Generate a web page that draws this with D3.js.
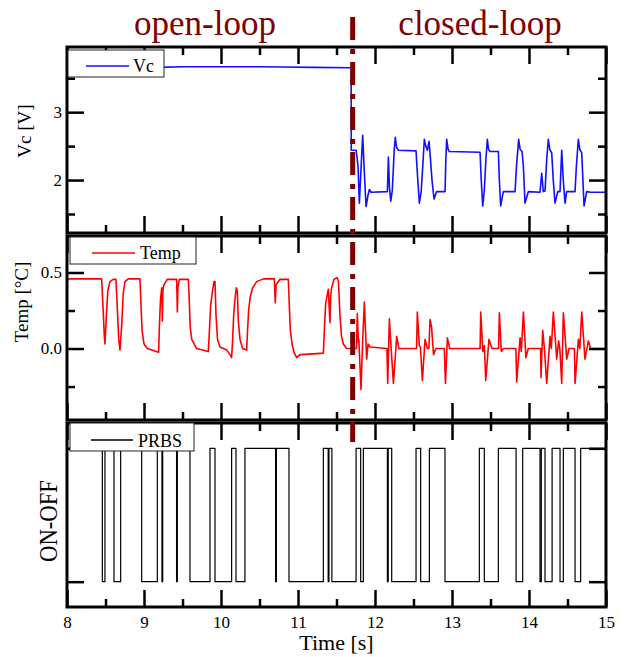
<!DOCTYPE html>
<html lang="en">
<head>
<meta charset="UTF-8">
<title>Vc / Temp / PRBS</title>
<script src="https://d3js.org/d3.v7.min.js"></script>
<style>
  body { margin: 0; background: #fff; }
  svg text { font-family: "Liberation Serif", "Times New Roman", serif; }
  .frame { fill: none; stroke: #000; stroke-width: 3px; }
  .tick line { stroke: #000; stroke-width: 2.5px; }
  .domain { display: none; }
  .legend-box { fill: #fff; stroke: #222; stroke-width: 1px; }
</style>
</head>
<body>
<svg width="627" height="657"></svg>
<script>
// ---- data ----
const xMajor = [8, 9, 10, 11, 12, 13, 14, 15];
const xMinor = [8.5, 9.5, 10.5, 11.5, 12.5, 13.5, 14.5];
const switchTime = 11.71;
const sectionLabels = ["open-loop", "closed-loop"];

const vcSeries = [
  [8.0, 3.68], [8.6, 3.675], [8.8, 3.66], [9.0, 3.67], [9.2, 3.66], [9.5, 3.67], [10.0, 3.67],
  [10.5, 3.67], [10.8, 3.665], [11.2, 3.66], [11.69, 3.655], [11.692, 2.44], [11.755, 2.44],
  [11.78, 2.2], [11.797, 1.66], [11.82, 2.2], [11.84, 2.66], [11.862, 2.1], [11.884, 1.61],
  [11.91, 1.78], [11.927, 1.86], [11.95, 1.82], [12.161, 1.83], [12.174, 2.34], [12.187, 1.9],
  [12.205, 1.69], [12.225, 1.85], [12.25, 2.45], [12.264, 2.63], [12.28, 2.48], [12.303, 2.44],
  [12.533, 2.43], [12.55, 2.1], [12.576, 1.66], [12.6, 1.83], [12.62, 2.2], [12.641, 2.6],
  [12.66, 2.5], [12.68, 2.44], [12.702, 2.57], [12.715, 2.39], [12.74, 2.0], [12.767, 1.72],
  [12.8, 1.83], [12.91, 1.83], [12.92, 2.3], [12.931, 2.6], [12.95, 2.45], [12.966, 2.42],
  [13.364, 2.41], [13.38, 2.0], [13.399, 1.62], [13.42, 1.85], [13.44, 2.3], [13.459, 2.6],
  [13.475, 2.45], [13.494, 2.42], [13.602, 2.42], [13.615, 2.0], [13.632, 1.62], [13.667, 1.83],
  [13.819, 1.83], [13.84, 2.25], [13.866, 2.6], [13.885, 2.45], [13.91, 2.42], [13.927, 2.2],
  [13.948, 1.66], [13.992, 1.83], [14.143, 1.82], [14.165, 2.1], [14.186, 1.83], [14.208, 1.84],
  [14.23, 2.3], [14.251, 2.6], [14.27, 2.45], [14.295, 2.4], [14.315, 2.0], [14.338, 1.66],
  [14.373, 1.83], [14.403, 1.83], [14.425, 2.44], [14.445, 2.0], [14.468, 1.66], [14.489, 1.83],
  [14.598, 1.83], [14.615, 2.2], [14.641, 2.6], [14.66, 2.45], [14.685, 2.4], [14.7, 2.0],
  [14.715, 1.62], [14.749, 1.83], [14.8, 1.82], [15.0, 1.82]
];

const tempSeries = [
  [8.0, 0.447], [8.03, 0.458], [8.45, 0.458], [8.47, 0.25], [8.485, 0.08], [8.493, 0.03],
  [8.51, 0.2], [8.53, 0.38], [8.558, 0.44], [8.6, 0.455], [8.636, 0.455], [8.655, 0.25],
  [8.672, 0.06], [8.688, -0.01], [8.71, 0.15], [8.73, 0.36], [8.753, 0.44], [8.796, 0.458],
  [8.948, 0.458], [8.96, 0.3], [8.975, 0.12], [9.0, 0.03], [9.043, 0.0], [9.1, -0.01],
  [9.19, -0.025], [9.2, 0.15], [9.215, 0.33], [9.232, 0.4], [9.238, 0.18], [9.245, 0.38],
  [9.26, 0.42], [9.303, 0.455], [9.424, 0.455], [9.433, 0.24], [9.44, 0.4], [9.459, 0.455],
  [9.576, 0.455], [9.589, 0.3], [9.6, 0.14], [9.62, 0.06], [9.684, 0.0], [9.835, -0.02],
  [9.85, 0.12], [9.865, 0.28], [9.89, 0.38], [9.909, 0.44], [9.922, 0.44], [9.935, 0.22],
  [9.955, 0.06], [9.987, 0.01], [10.073, -0.01], [10.117, -0.04], [10.138, -0.06], [10.15, 0.05],
  [10.165, 0.22], [10.18, 0.32], [10.2, 0.4], [10.212, 0.38], [10.225, 0.18], [10.247, 0.06],
  [10.28, 0.0], [10.333, -0.01], [10.345, 0.12], [10.36, 0.26], [10.38, 0.34], [10.411, 0.4],
  [10.463, 0.44], [10.55, 0.458], [10.692, 0.458], [10.705, 0.3], [10.715, 0.42], [10.766, 0.455],
  [10.874, 0.455], [10.886, 0.3], [10.9, 0.12], [10.926, 0.02], [10.952, -0.03], [10.983, -0.06],
  [11.026, -0.04], [11.2, -0.035], [11.329, -0.03], [11.345, 0.15], [11.36, 0.3], [11.394, 0.39],
  [11.415, 0.17], [11.425, 0.35], [11.437, 0.4], [11.467, 0.455], [11.51, 0.465], [11.525, 0.44],
  [11.545, 0.22], [11.565, 0.08], [11.589, 0.03], [11.63, 0.0], [11.7, 0.0],
  [11.76, 0.0], [11.77, 0.23], [11.785, 0.04], [11.79, 0.06], [11.818, -0.27], [11.84, 0.05],
  [11.862, 0.305], [11.892, -0.07], [11.91, 0.03], [11.935, 0.01], [12.155, 0.0], [12.165, -0.23],
  [12.187, 0.195], [12.21, 0.0], [12.239, -0.23], [12.282, 0.08], [12.31, 0.0], [12.54, 0.0],
  [12.55, 0.24], [12.575, 0.02], [12.59, 0.01], [12.615, -0.21], [12.65, 0.06], [12.68, 0.0],
  [12.7, 0.0], [12.715, 0.19], [12.735, 0.14], [12.76, -0.04], [12.79, 0.0], [12.9, 0.0],
  [12.915, -0.23], [12.94, 0.07], [12.97, 0.0], [13.365, 0.0], [13.373, 0.24], [13.4, -0.02],
  [13.42, 0.02], [13.438, -0.21], [13.48, 0.06], [13.52, 0.0], [13.605, 0.0], [13.615, 0.235],
  [13.64, -0.02], [13.67, 0.0], [13.83, 0.0], [13.84, -0.22], [13.884, 0.07], [13.9, -0.02],
  [13.927, 0.24], [13.96, -0.06], [13.99, 0.0], [14.15, 0.0], [14.156, -0.19], [14.178, 0.12],
  [14.2, 0.0], [14.23, -0.23], [14.273, 0.08], [14.29, 0.0], [14.316, 0.24], [14.36, -0.07],
  [14.385, 0.05], [14.4, 0.0], [14.425, -0.23], [14.446, 0.235], [14.49, -0.07], [14.52, 0.0],
  [14.59, 0.0], [14.598, -0.23], [14.641, 0.06], [14.66, 0.0], [14.685, 0.24], [14.727, -0.07],
  [14.771, 0.05], [14.8, 0.0], [15.0, 0.0]
];

// PRBS: switching instants and the level held after each one
const prbsTimes = [8.0, 8.459, 8.493, 8.61, 8.697, 8.97, 9.173, 9.233, 9.243, 9.423, 9.433,
  9.597, 9.857, 9.922, 10.138, 10.195, 10.311, 10.709, 10.719, 10.883, 11.329, 11.392, 11.402,
  11.44, 11.754, 11.814, 11.849, 12.161, 12.172, 12.217, 12.533, 12.593, 12.706, 12.909, 13.355,
  13.42, 13.602, 13.832, 13.918, 14.143, 14.16, 14.208, 14.3, 14.403, 14.446, 14.598, 14.671, 15.0];
const prbsLevels = [1, 0, 1, 0, 1, 0, 1, 0, 1, 0, 1,
  0, 1, 0, 1, 0, 1, 0, 1, 0, 1, 0, 1,
  0, 1, 0, 1, 0, 1, 0, 1, 0, 1, 0, 1,
  0, 1, 0, 1, 0, 1, 0, 1, 0, 1, 0, 1, 1];

const vcMajor = [2, 3], vcMinor = [1.5, 2.5, 3.5];
const tempMajor = [0, 0.5], tempMinor = [-0.25, 0.25];
const prbsMajor = [0, 1];

// ---- layout ----
const serif = "'Liberation Serif', 'Times New Roman', serif";
const svg = d3.select("svg").attr("font-family", serif);
const left = 67, right = 606;
const x = d3.scaleLinear().domain([8, 15]).range([left, right]);

const panels = [
  { id: "vc", top: 47, bottom: 233, domain: [1.22, 3.96], major: vcMajor, minor: vcMinor,
    fmt: d3.format("d"), data: vcSeries, color: "#1010ff", width: 1.6,
    title: "Vc [V]", tx: 31, ty: 131, tsize: 19,
    legend: { label: "Vc", x: 68, y: 50, w: 96, h: 27, l1: 86, l2: 129, ly: 66, tx: 133, ty: 72 } },
  { id: "temp", top: 236, bottom: 420, domain: [-0.47, 0.74], major: tempMajor, minor: tempMinor,
    fmt: d3.format(".1f"), data: tempSeries, color: "#ff0000", width: 1.6,
    title: "Temp [\u00B0C]", tx: 28, ty: 302, tsize: 19,
    legend: { label: "Temp", x: 70, y: 237, w: 126, h: 27, l1: 92, l2: 135, ly: 253, tx: 140, ty: 259 } },
  { id: "prbs", top: 423, bottom: 607, domain: [-0.19, 1.19], major: prbsMajor, minor: [],
    fmt: () => "", data: prbsTimes.map((t, i) => [t, prbsLevels[i]]), color: "#000", width: 1.2,
    step: true, title: "ON-OFF", tx: 57, ty: 521, tsize: 26, tlen: 82,
    legend: { label: "PRBS", x: 70, y: 423, w: 124, h: 28, l1: 91, l2: 133, ly: 440, tx: 138, ty: 447 } }
];

panels.forEach((p, idx) => {
  const y = d3.scaleLinear().domain(p.domain).range([p.bottom, p.top]);
  const g = svg.append("g");
  const isLast = idx === panels.length - 1;

  g.append("clipPath").attr("id", "clip-" + p.id)
    .append("rect").attr("x", left).attr("y", p.top).attr("width", right - left).attr("height", p.bottom - p.top);

  const line = d3.line().x(d => x(d[0])).y(d => y(d[1]));
  if (p.step) line.curve(d3.curveStepAfter);
  g.append("path").datum(p.data)
    .attr("clip-path", "url(#clip-" + p.id + ")")
    .attr("fill", "none").attr("stroke", p.color).attr("stroke-width", p.width)
    .attr("stroke-linejoin", "round")
    .attr("d", line);

  // inward ticks on all four sides
  const tick = (gen, scale, vals, size, pos, labels, fmt, pad) => {
    const a = gen(scale).tickValues(vals).tickSize(-size).tickPadding(pad || 0)
      .tickFormat(labels ? fmt : "");
    const ag = g.append("g").attr("transform", pos).call(a);
    ag.attr("font-size", 17).attr("font-family", serif).attr("fill", "#000");
    ag.selectAll("text").attr("fill", "#000").attr("font-family", serif);
    return ag;
  };
  tick(d3.axisBottom, x, xMajor, 17, `translate(0,${p.bottom})`, isLast, d3.format("d"), 9);
  tick(d3.axisBottom, x, xMinor, 8, `translate(0,${p.bottom})`, false);
  tick(d3.axisTop, x, xMajor, 17, `translate(0,${p.top})`, false);
  tick(d3.axisTop, x, xMinor, 8, `translate(0,${p.top})`, false);
  tick(d3.axisLeft, y, p.major, 17, `translate(${left},0)`, true, p.fmt, 5);
  tick(d3.axisLeft, y, p.minor, 8, `translate(${left},0)`, false);
  tick(d3.axisRight, y, p.major, 17, `translate(${right},0)`, false);
  tick(d3.axisRight, y, p.minor, 8, `translate(${right},0)`, false);

  g.append("rect").attr("class", "frame")
    .attr("x", left).attr("y", p.top).attr("width", right - left).attr("height", p.bottom - p.top);

  // legend
  const L = p.legend;
  g.append("rect").attr("class", "legend-box")
    .attr("x", L.x).attr("y", L.y).attr("width", L.w).attr("height", L.h);
  g.append("line").attr("x1", L.l1).attr("x2", L.l2).attr("y1", L.ly).attr("y2", L.ly)
    .attr("stroke", p.color).attr("stroke-width", 1.4);
  g.append("text").attr("x", L.tx).attr("y", L.ty).attr("font-size", 18)
    .attr("font-family", serif).text(L.label);

  // y title
  const t = g.append("text")
    .attr("transform", `translate(${p.tx},${p.ty}) rotate(-90)`)
    .attr("text-anchor", "middle").attr("font-size", p.tsize)
    .attr("font-family", serif).text(p.title);
  if (p.tlen) t.attr("textLength", p.tlen).attr("lengthAdjust", "spacingAndGlyphs");
});

svg.append("text").attr("x", (left + right) / 2).attr("y", 650)
  .attr("text-anchor", "middle").attr("font-size", 22).attr("font-family", serif).text("Time [s]");

// section labels and switching line
const maroon = "#800000";
svg.append("text").attr("x", 205).attr("y", 35).attr("text-anchor", "middle")
  .attr("font-size", 35).attr("font-family", serif).attr("fill", maroon).text(sectionLabels[0]);
svg.append("text").attr("x", 480).attr("y", 35).attr("text-anchor", "middle")
  .attr("font-size", 35).attr("font-family", serif).attr("fill", maroon).text(sectionLabels[1]);

svg.append("line")
  .attr("x1", x(switchTime)).attr("x2", x(switchTime)).attr("y1", 17).attr("y2", 442)
  .attr("stroke", maroon).attr("stroke-width", 5).attr("stroke-dasharray", "23,9,5,8");
</script>
</body>
</html>
